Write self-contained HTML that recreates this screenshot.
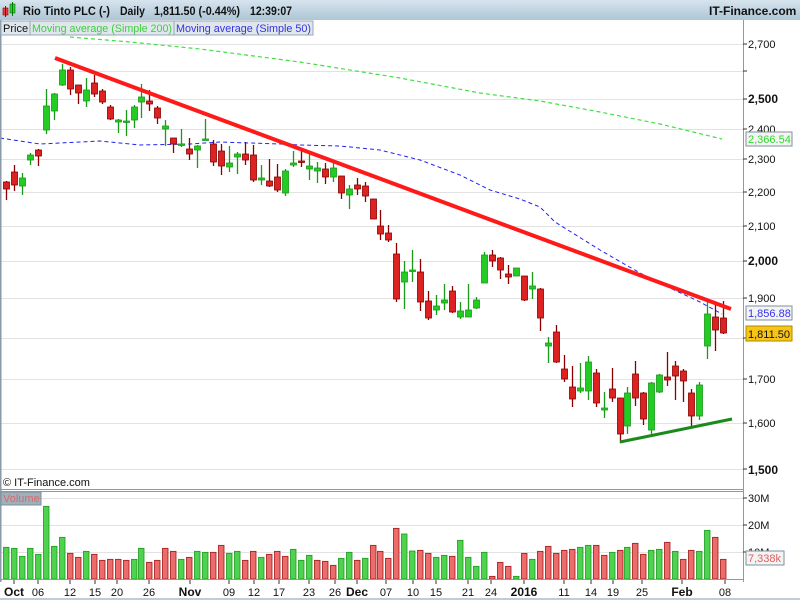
<!DOCTYPE html>
<html><head><meta charset="utf-8"><style>
body{margin:0;width:800px;height:600px;overflow:hidden;background:#fff;font-family:"Liberation Sans",sans-serif}
svg text{font-family:"Liberation Sans",sans-serif}
</style></head><body>
<svg id="s" width="800" height="600" xmlns="http://www.w3.org/2000/svg">
<defs><linearGradient id="hg" x1="0" y1="0" x2="0" y2="1"><stop offset="0" stop-color="#d6e4ee"/><stop offset="1" stop-color="#aec6d6"/></linearGradient></defs>
<rect x="0" y="0" width="800" height="600" fill="#fff"/>
<rect x="0" y="0" width="800" height="20" fill="url(#hg)"/>
<rect x="0" y="20" width="800" height="16" fill="#fff"/>
<g id="grid" stroke="#e2e2e2" stroke-width="1"></g>
<g id="lines"></g>
<g id="cand"></g>
<g id="vol"></g>
<line x1="0.5" y1="20" x2="0.5" y2="582" stroke="#8a9aa6" stroke-width="2"/>
<line x1="743.5" y1="20" x2="743.5" y2="582" stroke="#8a9aa6"/>
<line x1="0" y1="489.5" x2="743" y2="489.5" stroke="#8a9aa6"/>
<line x1="0" y1="491.5" x2="743" y2="491.5" stroke="#8a9aa6"/>
<line x1="0" y1="579.5" x2="743" y2="579.5" stroke="#8a9aa6"/>
<line x1="0" y1="599" x2="800" y2="599" stroke="#8a9aa6"/>
<rect x="3" y="8" width="5" height="7" fill="#e04040" stroke="#900" stroke-width="0.6"/>
<line x1="5.5" y1="6" x2="5.5" y2="17" stroke="#900"/>
<rect x="10" y="4" width="5" height="9" fill="#3c3" stroke="#070" stroke-width="0.6"/>
<line x1="12.5" y1="2" x2="12.5" y2="16" stroke="#070"/>
<g font-size="12" font-weight="bold" fill="#111">
<text x="23" y="15" textLength="87" lengthAdjust="spacingAndGlyphs">Rio Tinto PLC (-)</text>
<text x="120" y="15" textLength="25" lengthAdjust="spacingAndGlyphs">Daily</text>
<text x="154" y="15" textLength="86" lengthAdjust="spacingAndGlyphs">1,811.50 (-0.44%)</text>
<text x="250" y="15" textLength="42" lengthAdjust="spacingAndGlyphs">12:39:07</text>
<text x="709" y="15">IT-Finance.com</text>
</g>
<rect x="1" y="21" width="29" height="14" fill="#dfe6ec" stroke="#9aaab6"/>
<text x="3" y="32" font-size="11" fill="#111">Price</text>
<rect x="30" y="21" width="144" height="14" fill="#dfe6ec" stroke="#9aaab6"/>
<text x="32" y="32" font-size="11" fill="#3ecf3e" textLength="140" lengthAdjust="spacingAndGlyphs">Moving average (Simple 200)</text>
<rect x="174" y="21" width="139" height="14" fill="#dfe6ec" stroke="#9aaab6"/>
<text x="176" y="32" font-size="11" fill="#3333dd" textLength="135" lengthAdjust="spacingAndGlyphs">Moving average (Simple 50)</text>
<text x="3" y="486" font-size="11" fill="#111">© IT-Finance.com</text>
<rect x="1" y="492" width="40" height="13" fill="#9fb0bc" stroke="#7f919e"/>
<text x="3" y="502" font-size="11" fill="#e06666">Volume</text>
<g font-size="11" fill="#111">
<text x="748" y="48">2,700</text>
<text x="748" y="103" font-size="12" font-weight="bold">2,500</text>
<text x="748" y="133">2,400</text>
<text x="748" y="163">2,300</text>
<text x="748" y="196">2,200</text>
<text x="748" y="230">2,100</text>
<text x="748" y="265" font-size="12" font-weight="bold">2,000</text>
<text x="748" y="302">1,900</text>
<text x="748" y="383">1,700</text>
<text x="748" y="427">1,600</text>
<text x="748" y="474" font-size="12" font-weight="bold">1,500</text>
<text x="748" y="502">30M</text>
<text x="748" y="529">20M</text>
<text x="748" y="556">10M</text>
</g>
<g stroke="#333">
<line x1="743" y1="44" x2="747" y2="44"/><line x1="743" y1="71" x2="747" y2="71"/><line x1="743" y1="99" x2="747" y2="99"/>
<line x1="743" y1="129" x2="747" y2="129"/><line x1="743" y1="159" x2="747" y2="159"/><line x1="743" y1="192" x2="747" y2="192"/>
<line x1="743" y1="226" x2="747" y2="226"/><line x1="743" y1="261" x2="747" y2="261"/><line x1="743" y1="298" x2="747" y2="298"/>
<line x1="743" y1="338" x2="747" y2="338"/><line x1="743" y1="379" x2="747" y2="379"/><line x1="743" y1="423" x2="747" y2="423"/>
<line x1="743" y1="469" x2="747" y2="469"/><line x1="743" y1="498" x2="747" y2="498"/><line x1="743" y1="525" x2="747" y2="525"/><line x1="743" y1="552" x2="747" y2="552"/>
</g>
<rect x="746" y="132" width="46" height="14" fill="#f4f4f4" stroke="#7f919e"/>
<text x="748" y="143" font-size="11" fill="#2ed82e">2,366.54</text>
<rect x="746" y="306" width="46" height="14" fill="#f4f4f4" stroke="#7f919e"/>
<text x="748" y="317" font-size="11" fill="#3333ee">1,856.88</text>
<rect x="746" y="326" width="46" height="15" fill="#f7c516" stroke="#b08a00"/>
<text x="748" y="338" font-size="11" fill="#111">1,811.50</text>
<rect x="746" y="551" width="38" height="14" fill="#f4f4f4" stroke="#7f919e"/>
<text x="748" y="562" font-size="11" fill="#e06060">7,338k</text>
<g font-size="11" fill="#111" text-anchor="middle">
<text x="14" y="596" font-size="12" font-weight="bold">Oct</text><text x="38" y="596">06</text><text x="70" y="596">12</text><text x="95" y="596">15</text><text x="117" y="596">20</text><text x="149" y="596">26</text>
<text x="190" y="596" font-size="12" font-weight="bold">Nov</text><text x="229" y="596">09</text><text x="254" y="596">12</text><text x="279" y="596">17</text><text x="309" y="596">23</text><text x="335" y="596">26</text>
<text x="357" y="596" font-size="12" font-weight="bold">Dec</text><text x="386" y="596">07</text><text x="413" y="596">10</text><text x="436" y="596">15</text><text x="468" y="596">21</text><text x="491" y="596">24</text>
<text x="524" y="596" font-size="12" font-weight="bold">2016</text><text x="564" y="596">11</text><text x="591" y="596">14</text><text x="613" y="596">19</text><text x="642" y="596">25</text>
<text x="682" y="596" font-size="12" font-weight="bold">Feb</text><text x="725" y="596">08</text>
</g>
<g stroke="#333">
<line x1="14" y1="580" x2="14" y2="584"/><line x1="38" y1="580" x2="38" y2="584"/><line x1="70" y1="580" x2="70" y2="584"/><line x1="95" y1="580" x2="95" y2="584"/><line x1="117" y1="580" x2="117" y2="584"/><line x1="149" y1="580" x2="149" y2="584"/><line x1="190" y1="580" x2="190" y2="584"/><line x1="229" y1="580" x2="229" y2="584"/><line x1="254" y1="580" x2="254" y2="584"/><line x1="279" y1="580" x2="279" y2="584"/><line x1="309" y1="580" x2="309" y2="584"/><line x1="335" y1="580" x2="335" y2="584"/><line x1="357" y1="580" x2="357" y2="584"/><line x1="386" y1="580" x2="386" y2="584"/><line x1="413" y1="580" x2="413" y2="584"/><line x1="436" y1="580" x2="436" y2="584"/><line x1="468" y1="580" x2="468" y2="584"/><line x1="491" y1="580" x2="491" y2="584"/><line x1="524" y1="580" x2="524" y2="584"/><line x1="564" y1="580" x2="564" y2="584"/><line x1="591" y1="580" x2="591" y2="584"/><line x1="613" y1="580" x2="613" y2="584"/><line x1="642" y1="580" x2="642" y2="584"/><line x1="682" y1="580" x2="682" y2="584"/><line x1="725" y1="580" x2="725" y2="584"/>
</g>
</svg>
<script>
var NS="http://www.w3.org/2000/svg";
function el(p,t,a){var e=document.createElementNS(NS,t);for(var k in a)e.setAttribute(k,a[k]);document.getElementById(p).appendChild(e);return e;}
[44,71,99,129,159,192,226,261,298,338,379,423,469,498,525,552].forEach(function(y){el("grid","line",{x1:1,x2:743,y1:y+.5,y2:y+.5});});
var C=[[6,182,189,181,200,0],[14,172,185,165,191,0],[22,178,186,173,195,1],[30,155,160,153,165,1],[38,150,156,149,166,0],[46,106,130,89,134,1],[54,94,111,93,120,1],[62,70,85,64,86,1],[70,70,89,67,95,0],[78,85,93,85,104,0],[86,90,101,78,107,1],[94,83,94,75,97,0],[102,91,102,89,104,0],[110,107,119,105,120,0],[118,120,122,119,133,1],[126,121,121,110,136,1],[134,107,120,105,128,1],[141,97,102,84,118,1],[149,101,104,90,111,0],[157,108,118,106,124,0],[165,126,129,120,146,1],[173,138,144,138,153,0],[181,144,144,129,147,1],[189,149,154,138,160,0],[197,146,150,145,168,1],[205,139,139,119,140,1],[213,144,162,140,166,0],[221,151,166,144,175,0],[229,163,167,146,172,1],[237,154,157,152,174,1],[245,154,160,142,165,0],[253,155,180,145,182,0],[261,178,180,165,185,1],[269,181,186,159,187,0],[277,177,190,164,192,0],[285,171,193,169,196,1],[293,163,165,151,167,1],[301,161,161,151,167,0],[309,166,169,153,180,1],[317,168,171,162,183,1],[325,169,177,163,184,0],[333,168,177,163,182,1],[341,176,193,176,199,0],[349,189,195,185,209,1],[357,185,189,178,195,0],[365,186,196,182,202,0],[373,199,219,199,219,0],[380,226,234,210,240,0],[388,233,240,225,242,0],[396,254,299,243,302,0],[404,272,282,261,309,1],[412,270,270,250,282,1],[420,272,302,259,311,0],[428,301,318,291,320,0],[436,306,310,295,315,1],[444,300,303,284,310,1],[452,291,312,286,313,0],[460,311,317,302,319,1],[468,310,317,284,317,1],[476,300,308,297,309,1],[484,255,283,252,283,1],[492,255,261,250,267,0],[500,258,270,257,279,0],[508,274,277,265,284,0],[516,268,276,268,276,1],[524,276,300,276,301,0],[532,286,289,272,299,1],[540,289,318,288,331,0],[548,343,346,337,363,1],[556,332,362,325,363,0],[564,369,379,355,382,0],[572,387,399,366,407,0],[580,388,391,363,393,1],[588,362,391,356,400,1],[596,373,403,369,407,0],[604,408,410,392,418,1],[612,389,398,368,402,0],[620,398,434,398,443,0],[627,393,426,387,434,1],[635,374,398,361,406,0],[643,393,419,392,425,0],[651,383,430,382,434,1],[659,375,392,374,393,1],[667,377,380,352,386,0],[675,366,376,361,400,0],[683,371,381,369,402,0],[691,393,416,389,426,0],[699,385,416,382,420,1],[707,314,346,302,359,1],[715,317,330,303,351,0],[723,318,333,301,334,0]];
function pl(pts,att){att.points=pts.map(function(p){return p.join(",")}).join(" ");att.fill="none";el("lines","polyline",att);}
pl([[70,37],[130,42],[200,49],[300,62],[400,78],[480,93],[540,101],[600,112],[660,124],[722,139]],{stroke:"#3ee03e","stroke-width":1.2,"stroke-dasharray":"4,3"});
pl([[0,138],[20,141],[40,144],[100,141],[140,145],[190,144],[220,142],[280,144],[300,145],[340,146],[380,150],[420,160],[460,175],[490,190],[520,199],[540,207],[555,222],[600,250],[640,273],[670,288],[700,302],[722,314]],{stroke:"#2222ee","stroke-width":1,"stroke-dasharray":"4,3"});
C.forEach(function(c){var col=c[5]?"#1a9a1a":"#8b0000",fill=c[5]?"#22cc22":"#dd2222";
el("cand","line",{x1:c[0]+.5,x2:c[0]+.5,y1:c[3],y2:c[4],stroke:col,"stroke-width":1.3});
var h=Math.max(c[2]-c[1],1.5);el("cand","rect",{x:c[0]-2.5,y:c[1],width:6,height:h,fill:fill,stroke:col,"stroke-width":0.8});});
el("cand","line",{x1:55,y1:58,x2:731,y2:309,stroke:"#ff1a1a","stroke-width":4});
el("cand","line",{x1:620,y1:442,x2:732,y2:419,stroke:"#1a8a1a","stroke-width":3});
var V1=[232,235,259,235,253,109,229,202,250,262,244,253,271,268,268,271,268,235,277,271,235,244,268,262,244,247,247,226,250,244,271,244,262,253,244,259,238,271,256,271,274,286,265,247,271,265,226,244,265,175];
var G1="11111111001000001100001011001100100011100011010000".split("");
var G2c=[1,1,0,0,1,1,0,1,1,1,1,0,0,0,1,0,1,0,0,0,0,0,1,1,0,0,1,0,1,0,0,1,1,0,1,0,0,1,1,0,0];
var V2=[192,243,241,250,262,256,259,211,262,289,247,319,277,289,319,250,268,244,229,250,241,238,232,226,226,256,247,241,232,220,253,241,238,217,244,268,241,244,181,202,268];
function vb(x,top,g){var y=470+top/3;el("vol","rect",{x:x-2.5,y:y,width:5.5,height:579-y,fill:g?"#4fd24f":"#ec6b6b",stroke:g?"#1a9a1a":"#a01818","stroke-width":0.8});}
V1.forEach(function(t,i){vb(C[i][0],t,G1[i]=="1");});
V2.forEach(function(t,i){vb(C[50+i][0],t,G2c[i]);});
</script>
</body></html>
